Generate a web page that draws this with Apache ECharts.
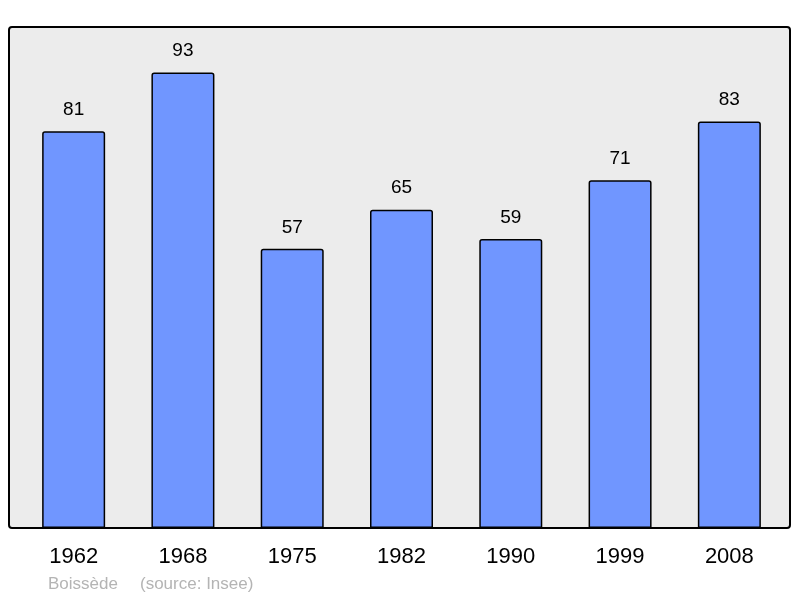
<!DOCTYPE html>
<html lang="fr">
<head>
<meta charset="UTF-8">
<title>Boissède</title>
<script src="https://cdn.jsdelivr.net/npm/echarts@6/dist/echarts.min.js"></script>
<style>
  html, body { margin: 0; padding: 0; background: #fff; }
  #chart { width: 800px; height: 598px; }
</style>
</head>
<body>
<div id="chart"></div>
<script>
// données
var years = ['1962', '1968', '1975', '1982', '1990', '1999', '2008'];
var population = [81, 93, 57, 65, 59, 71, 83];
var yMax = 102.3;

var chart = echarts.init(document.getElementById('chart'));

chart.setOption({
    animation: false,
    textStyle: { fontFamily: 'Liberation Sans, Arial, sans-serif' },
    grid: { left: 19, right: 16, top: 27, bottom: 70 },
    // fond gris du cadre
    graphic: [{
        type: 'rect',
        z: -1,
        shape: { x: 9, y: 27, width: 781, height: 501, r: 3 },
        style: { fill: '#ececec', stroke: '#000', lineWidth: 2 }
    }, {
        type: 'text',
        left: 48,
        top: 576,
        style: { text: 'Boissède', fill: '#b4b4b4', fontSize: 17, fontFamily: 'Liberation Sans, Arial, sans-serif' }
    }, {
        type: 'text',
        left: 140,
        top: 576,
        style: { text: '(source: Insee)', fill: '#b4b4b4', fontSize: 17, fontFamily: 'Liberation Sans, Arial, sans-serif' }
    }],
    xAxis: {
        type: 'category',
        data: years,
        axisLine: { show: false },
        axisTick: { show: false },
        axisLabel: { color: '#000', fontSize: 22, margin: 18 }
    },
    yAxis: {
        type: 'value',
        min: 0,
        max: yMax,
        show: false,
        splitLine: { show: false }
    },
    series: [{
        type: 'bar',
        data: population,
        barWidth: 63,
        itemStyle: {
            color: '#7096ff',
            borderColor: '#000',
            borderWidth: 1.5,
            borderRadius: [2, 2, 0, 0]
        },
        label: {
            show: true,
            position: 'top',
            distance: 12,
            color: '#000',
            fontSize: 19
        }
    }]
});
</script>
</body>
</html>
